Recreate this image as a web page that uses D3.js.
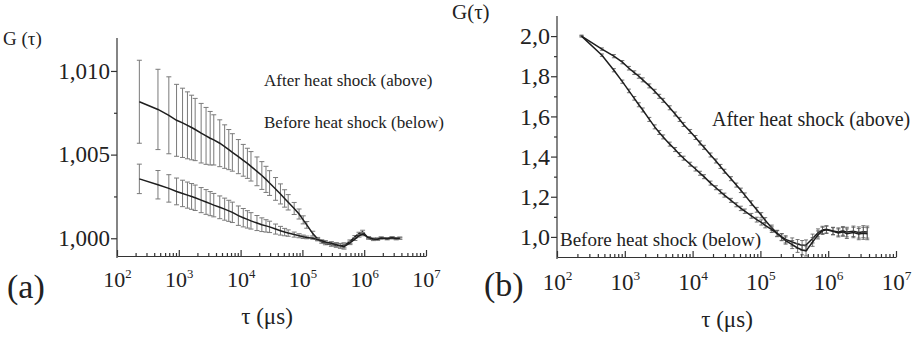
<!DOCTYPE html>
<html>
<head>
<meta charset="utf-8">
<script src="https://cdn.jsdelivr.net/npm/d3@7"></script>
<style>
  body { margin: 0; background: #fff; }
  text { font-family: "Liberation Serif", "Times New Roman", serif; fill: #222; }
  .axis path, .axis line { stroke: #333; stroke-width: 1.2; }
</style>
</head>
<body>
<script>
//============ data ============//
// lag times in µs, shared by every curve
var tau = [230, 460, 690, 920, 1150, 1380, 1610, 1840,
  2300, 2760, 3220, 3680, 4600, 5520, 6440, 7360,
  9200, 11040, 12880, 14720, 18400, 22080, 25760, 29440,
  36800, 44160, 51520, 58880, 73600, 88320, 103040, 117760,
  147200, 176640, 206080, 235520, 294400, 353280, 412160, 471040,
  588800, 706560, 824320, 942080, 1177600, 1413120, 1648640, 1884160,
  2355200, 2826240, 3297280, 3768320];

// panel (a)
var aAfter = [1.00816, 1.00770, 1.00735, 1.00705, 1.00690, 1.00675, 1.00662, 1.00650,
  1.00628, 1.00612, 1.00598, 1.00588, 1.00568, 1.00548, 1.00530, 1.00513,
  1.00488, 1.00466, 1.00448, 1.00430, 1.00400, 1.00375, 1.00352, 1.00330,
  1.00295, 1.00265, 1.00238, 1.00215, 1.00178, 1.00145, 1.00110, 1.00080,
  1.00028, 0.99995, 0.99978, 0.99968, 0.99962, 0.99958, 0.99955, 0.99958,
  0.99980, 1.00008, 1.00028, 1.00038, 1.00000, 0.99992, 0.99996, 1.00002,
  0.99998, 1.00003, 0.99997, 1.00001];
var aAfterErr = [0.00248, 0.00240, 0.00230, 0.00215, 0.00207, 0.00200, 0.00193, 0.00186,
  0.00178, 0.00170, 0.00160, 0.00150, 0.00140, 0.00130, 0.00120, 0.00112,
  0.00102, 0.00095, 0.00090, 0.00088, 0.00086, 0.00083, 0.00078, 0.00074,
  0.00068, 0.00060, 0.00052, 0.00046, 0.00036, 0.00030, 0.00024, 0.00020,
  0.00014, 0.00010, 0.00008, 0.00007, 0.00010, 0.00012, 0.00014, 0.00015,
  0.00010, 0.00008, 0.00008, 0.00010, 0.00006, 0.00006, 0.00006, 0.00006,
  0.00006, 0.00006, 0.00006, 0.00006];
var aBefore = [1.00355, 1.00320, 1.00298, 1.00280, 1.00268, 1.00258, 1.00250, 1.00242,
  1.00228, 1.00217, 1.00207, 1.00198, 1.00185, 1.00174, 1.00164, 1.00155,
  1.00135, 1.00123, 1.00113, 1.00104, 1.00091, 1.00081, 1.00074, 1.00068,
  1.00055, 1.00045, 1.00037, 1.00031, 1.00022, 1.00015, 1.00009, 1.00005,
  1.00000, 0.99992, 0.99985, 0.99978, 0.99970, 0.99962, 0.99955, 0.99950,
  0.99972, 0.99995, 1.00015, 1.00025, 1.00004, 0.99996, 0.99994, 1.00001,
  0.99997, 1.00003, 0.99998, 1.00000];
var aBeforeErr = [0.00088, 0.00085, 0.00082, 0.00080, 0.00079, 0.00078, 0.00077, 0.00076,
  0.00075, 0.00074, 0.00072, 0.00070, 0.00068, 0.00066, 0.00063, 0.00061,
  0.00058, 0.00055, 0.00052, 0.00049, 0.00045, 0.00041, 0.00037, 0.00034,
  0.00030, 0.00026, 0.00022, 0.00019, 0.00015, 0.00012, 0.00010, 0.00008,
  0.00006, 0.00006, 0.00006, 0.00008, 0.00010, 0.00012, 0.00014, 0.00015,
  0.00010, 0.00008, 0.00008, 0.00010, 0.00006, 0.00006, 0.00006, 0.00006,
  0.00006, 0.00006, 0.00006, 0.00006];

// panel (b)
var bAfter = [2.000, 1.935, 1.900, 1.870, 1.840, 1.818, 1.800, 1.782,
  1.752, 1.725, 1.700, 1.680, 1.643, 1.612, 1.585, 1.560,
  1.525, 1.495, 1.468, 1.446, 1.408, 1.378, 1.351, 1.327,
  1.290, 1.258, 1.232, 1.208, 1.168, 1.135, 1.108, 1.083,
  1.045, 1.018, 1.000, 0.988, 0.975, 0.965, 0.958, 0.960,
  0.992, 1.020, 1.035, 1.038, 1.030, 1.025, 1.030, 1.024,
  1.028, 1.022, 1.026, 1.024];
var bBefore = [2.000, 1.905, 1.830, 1.773, 1.727, 1.690, 1.658, 1.632,
  1.585, 1.548, 1.520, 1.498, 1.462, 1.435, 1.410, 1.392,
  1.362, 1.338, 1.317, 1.300, 1.268, 1.245, 1.225, 1.208,
  1.182, 1.160, 1.142, 1.128, 1.105, 1.086, 1.072, 1.058,
  1.036, 1.016, 0.998, 0.982, 0.962, 0.945, 0.935, 0.930,
  0.975, 1.010, 1.030, 1.035, 1.028, 1.020, 1.025, 1.016,
  1.022, 1.014, 1.018, 1.016];
var bErr = [0.004, 0.006, 0.008, 0.008, 0.009, 0.009, 0.010, 0.010,
  0.010, 0.010, 0.010, 0.010, 0.010, 0.010, 0.010, 0.010,
  0.010, 0.010, 0.010, 0.010, 0.010, 0.010, 0.010, 0.010,
  0.010, 0.010, 0.011, 0.011, 0.012, 0.012, 0.013, 0.013,
  0.014, 0.015, 0.017, 0.018, 0.020, 0.022, 0.024, 0.025,
  0.022, 0.020, 0.018, 0.018, 0.018, 0.020, 0.022, 0.024,
  0.026, 0.028, 0.030, 0.030];

// ticks
var decades = [1e2, 1e3, 1e4, 1e5, 1e6, 1e7];
var exponents = ['2', '3', '4', '5', '6', '7'];
var aYTicks = [1.000, 1.005, 1.010];
var aYMinor = [1.0025, 1.0075];
var bYTicks = [1.0, 1.2, 1.4, 1.6, 1.8, 2.0];
var bYMinor = [1.1, 1.3, 1.5, 1.7, 1.9];

//============ drawing ============//
var svg = d3.select('body').append('svg')
  .attr('width', 918)
  .attr('height', 341);

// decimal comma, as in the figure
var loc = d3.formatLocale({decimal: ',', thousands: '.', grouping: [3], currency: ['', '']});

function drawPanel(p) {
  var x = d3.scaleLog().domain([1e2, 1e7]).range([p.left, p.right]);
  var y = d3.scaleLinear().domain(p.yDomain).range([p.bottom, p.top]);

  // x axis, ticks pointing in
  var minor = x.ticks().filter(function(t) { return decades.indexOf(t) < 0; });
  svg.append('g').attr('class', 'axis')
    .attr('transform', 'translate(0,' + p.bottom + ')')
    .call(d3.axisBottom(x).tickValues(minor).tickSize(-3).tickSizeOuter(0).tickFormat(''));
  var xa = svg.append('g').attr('class', 'axis')
    .attr('transform', 'translate(0,' + p.bottom + ')')
    .call(d3.axisBottom(x).tickValues(decades).tickSize(-6).tickSizeOuter(0).tickFormat(''));
  xa.select('.domain').remove();
  xa.selectAll('.tick').each(function(d, i) {
    var t = d3.select(this).append('text')
      .attr('y', p.xLabelDy)
      .attr('text-anchor', 'middle')
      .style('font-size', p.xFont + 'px');
    t.append('tspan').text('10');
    t.append('tspan').attr('dy', -p.xFont * 0.42).style('font-size', (p.xFont * 0.58) + 'px').text(exponents[i]);
  });

  // y axis, ticks pointing out
  var ya = svg.append('g').attr('class', 'axis')
    .attr('transform', 'translate(' + p.left + ',0)')
    .call(d3.axisLeft(y).tickValues(p.yMinor).tickSize(3).tickSizeOuter(0).tickFormat(''));
  ya.select('.domain').attr('d', 'M0,' + p.top + 'V' + (p.bottom + 2));
  var yb = svg.append('g').attr('class', 'axis')
    .attr('transform', 'translate(' + p.left + ',0)')
    .call(d3.axisLeft(y).tickValues(p.yTicks).tickSize(6).tickPadding(1).tickFormat(p.yFormat));
  yb.select('.domain').remove();
  yb.selectAll('text')
    .style('font-size', p.yFont + 'px');

  var line = d3.line()
    .x(function(d) { return x(d.t); })
    .y(function(d) { return y(d.v); });

  p.series.forEach(function(s) {
    var pts = tau.map(function(t, i) { return {t: t, v: s.values[i], e: s.err[i]}; });
    var g = svg.append('g');
    var bars = g.selectAll('.bar').data(pts).enter().append('g')
      .attr('stroke', p.barColor)
      .attr('stroke-width', p.barWidth);
    bars.append('line')
      .attr('x1', function(d) { return x(d.t); })
      .attr('x2', function(d) { return x(d.t); })
      .attr('y1', function(d) { return y(d.v - d.e); })
      .attr('y2', function(d) { return y(d.v + d.e); });
    [-1, 1].forEach(function(sg) {
      bars.append('line')
        .attr('x1', function(d) { return x(d.t) - p.cap; })
        .attr('x2', function(d) { return x(d.t) + p.cap; })
        .attr('y1', function(d) { return y(d.v + sg * d.e); })
        .attr('y2', function(d) { return y(d.v + sg * d.e); });
    });
    g.append('path')
      .datum(pts)
      .attr('fill', 'none')
      .attr('stroke', '#1e1e1e')
      .attr('stroke-width', 1.5)
      .attr('d', line);
  });

  // labels
  p.labels.forEach(function(l) {
    svg.append('text')
      .attr('x', l.x).attr('y', l.y)
      .attr('text-anchor', l.anchor || 'start')
      .style('font-size', l.size + 'px')
      .text(l.text);
  });
}

drawPanel({
  left: 117, right: 426, top: 38, bottom: 256,
  yDomain: [0.99894, 1.01197],
  yTicks: aYTicks, yMinor: aYMinor,
  yFormat: loc.format('.3f'),
  xFont: 22, yFont: 23, xLabelDy: 31,
  barColor: '#7a7a7a', barWidth: 1, cap: 2.5,
  series: [
    {values: aAfter, err: aAfterErr},
    {values: aBefore, err: aBeforeErr}
  ],
  labels: [
    {text: 'G (\u03c4)', x: 3, y: 45, size: 19},
    {text: '(a)', x: 7, y: 298, size: 34},
    {text: '\u03c4 (\u03bcs)', x: 267, y: 324, size: 23, anchor: 'middle'},
    {text: 'After heat shock (above)', x: 264, y: 86, size: 17},
    {text: 'Before heat shock (below)', x: 264, y: 128, size: 17}
  ]
});

drawPanel({
  left: 557, right: 896, top: 16, bottom: 257,
  yDomain: [0.9, 2.1],
  yTicks: bYTicks, yMinor: bYMinor,
  yFormat: loc.format('.1f'),
  xFont: 23, yFont: 24, xLabelDy: 33,
  barColor: '#555', barWidth: 0.8, cap: 2,
  series: [
    {values: bAfter, err: bErr},
    {values: bBefore, err: bErr}
  ],
  labels: [
    {text: 'G(\u03c4)', x: 452, y: 19, size: 21},
    {text: '(b)', x: 484, y: 296, size: 34},
    {text: '\u03c4 (\u03bcs)', x: 727, y: 327, size: 23, anchor: 'middle'},
    {text: 'After heat shock (above)', x: 712, y: 126, size: 20},
    {text: 'Before heat shock (below)', x: 560, y: 246, size: 19}
  ]
});
</script>
</body>
</html>
